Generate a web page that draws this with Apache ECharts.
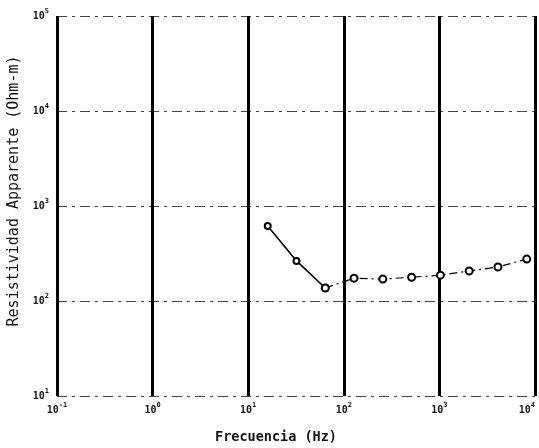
<!DOCTYPE html>
<html>
<head>
<meta charset="utf-8">
<script src="https://cdn.jsdelivr.net/npm/echarts@6/dist/echarts.min.js"></script>
<style>
  html, body { margin: 0; padding: 0; background: #fff; }
  #chart { width: 539px; height: 448px; }
</style>
</head>
<body>
<div id="chart"></div>
<script>
// frecuencias (Hz) y resistividad aparente (Ohm-m)
var freq = [16, 32, 64, 128, 256, 512, 1024, 2048, 4096, 8192]
var rho = [615, 264, 137, 174, 170, 178, 187, 207, 228, 276]
var solidCount = 3 // primeros puntos unidos con linea continua

var xTitle = 'Frecuencia (Hz)'
var yTitle = 'Resistividad Apparente (Ohm-m)'

function pairs (a, b) {
  var out = []
  for (var i = 0; i < a.length; i++) out.push([a[i], b[i]])
  return out
}
var allPts = pairs(freq, rho)
var solidPts = allPts.slice(0, solidCount)
var dashPts = allPts.slice(solidCount - 1)

function powLabel (v) {
  var e = Math.round(Math.log10(v))
  return '{b|10}{s|' + e + '}'
}
var richLabel = {
  b: { fontFamily: 'DejaVu Sans Mono', fontSize: 10, fontWeight: 'bold', color: '#111' },
  s: { fontFamily: 'DejaVu Sans Mono', fontSize: 7, fontWeight: 'bold', color: '#111', padding: [0, 0, 9, 0] }
}

var chart = echarts.init(document.getElementById('chart'))
chart.setOption({
  backgroundColor: '#fff',
  animation: false,
  grid: { left: 57, right: 4, top: 16, bottom: 52, outerBoundsMode: 'none', containLabel: false },
  graphic: [
    {
      type: 'text',
      x: 14,
      y: 191,
      rotation: Math.PI / 2,
      style: {
        text: yTitle,
        fontFamily: 'DejaVu Sans Mono',
        fontSize: 15,
        fill: '#111',
        align: 'center',
        verticalAlign: 'middle'
      }
    },
    {
      type: 'text',
      x: 276,
      y: 437,
      style: {
        text: xTitle,
        fontFamily: 'DejaVu Sans Mono',
        fontSize: 13.5,
        fontWeight: 'bold',
        fill: '#111',
        align: 'center',
        verticalAlign: 'middle'
      }
    }
  ],
  xAxis: {
    type: 'log',
    logBase: 10,
    min: 0.1,
    max: 10000,
    axisLine: { show: false },
    axisTick: { show: false },
    axisLabel: { formatter: powLabel, rich: richLabel, margin: 6, alignMaxLabel: 'right', hideOverlap: false },
    splitLine: { show: true, lineStyle: { color: '#000', width: 3, type: 'solid' } }
  },
  yAxis: {
    type: 'log',
    logBase: 10,
    min: 10,
    max: 100000,
    axisLine: { show: false },
    axisTick: { show: false },
    axisLabel: { formatter: powLabel, rich: richLabel, margin: 8 },
    splitLine: { show: true, lineStyle: { color: '#444', width: 1.2, type: [10, 5, 3, 5] } }
  },
  series: [
    {
      name: 'continua',
      type: 'line',
      data: solidPts,
      symbol: 'emptyCircle',
      symbolSize: 6,
      lineStyle: { color: '#000', width: 1.6 },
      itemStyle: { color: '#000', borderWidth: 1.2 },
      z: 3
    },
    {
      name: 'discontinua',
      type: 'line',
      data: dashPts,
      symbol: 'emptyCircle',
      symbolSize: 7,
      lineStyle: { color: '#000', width: 1.2, type: [8, 4, 2, 4] },
      itemStyle: { color: '#000', borderWidth: 1.2 },
      z: 3
    }
  ]
})
</script>
</body>
</html>
